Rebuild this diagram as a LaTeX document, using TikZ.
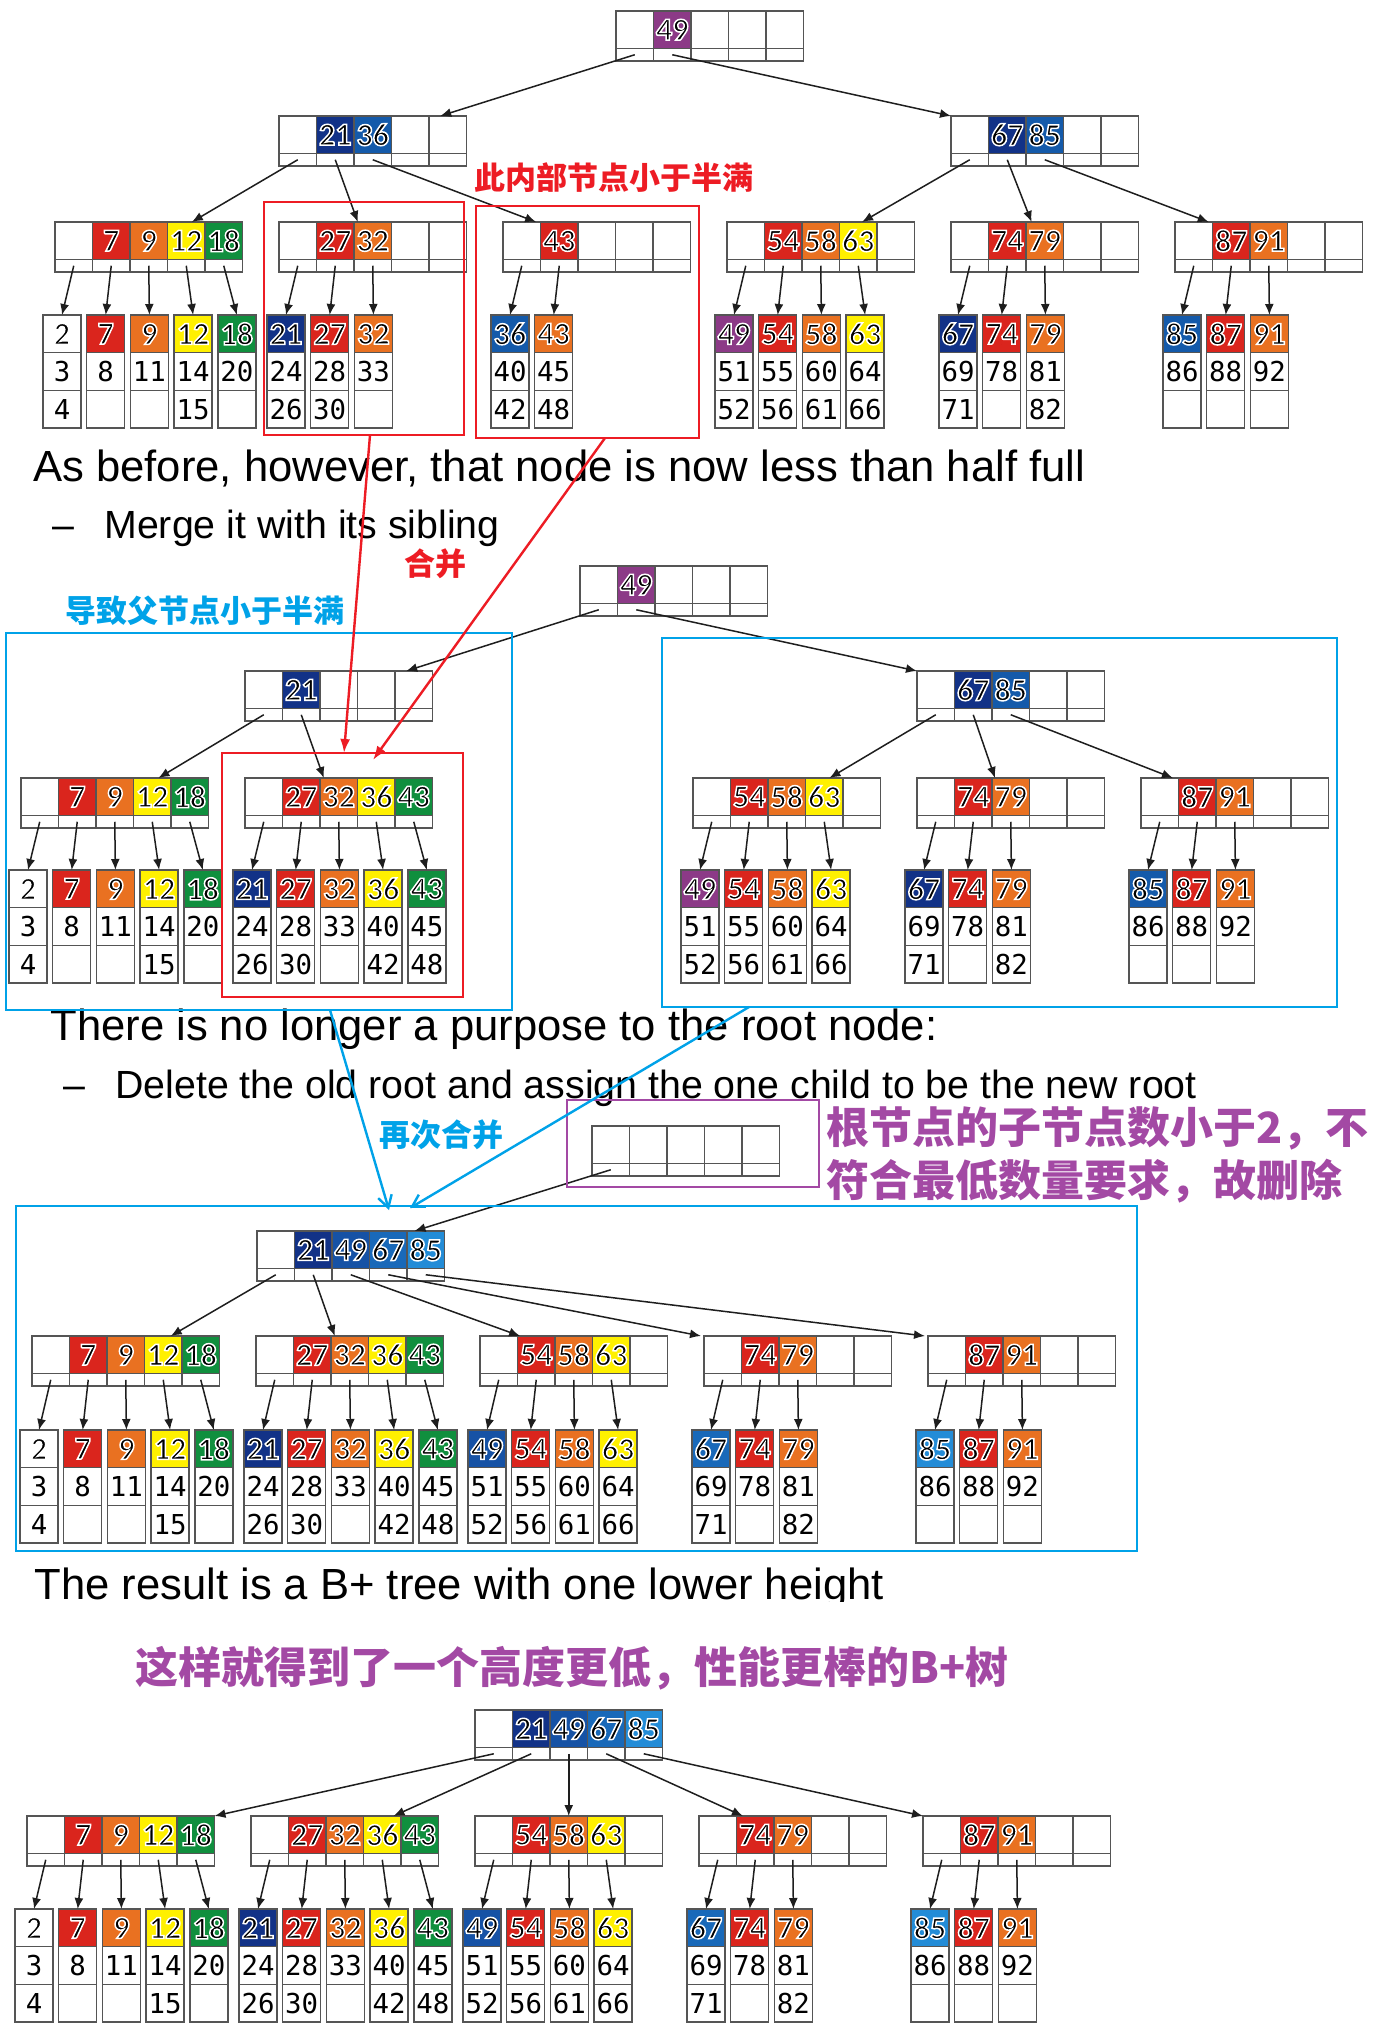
\documentclass[tikz,border=0pt]{standalone}
\usepackage{fontspec}
\usepackage{xcolor}
\usepackage{tikz}
\usetikzlibrary{arrows.meta}
\setmainfont{Liberation Sans}
\newfontfamily\cjk{Noto Sans CJK SC}
\newfontfamily\keyfont{Carlito}
\newfontfamily\numfont{DejaVu Sans Mono}
% black digits with a white rim: fill, then stroke in white
\newcommand{\halo}[1]{\special{pdf:literal direct 1 1 1 RG 0.75 w 2 Tr}#1\special{pdf:literal direct 0 Tr}}

\definecolor{cellgray}{RGB}{85,85,85}
\definecolor{arrowblack}{RGB}{30,30,30}
\definecolor{kred}{RGB}{218,37,29}
\definecolor{korange}{RGB}{233,113,33}
\definecolor{kyellow}{RGB}{255,240,0}
\definecolor{kgreen}{RGB}{16,143,62}
\definecolor{kpurple}{RGB}{140,58,135}
\definecolor{kdblue}{RGB}{18,50,135}
\definecolor{kmblue}{RGB}{20,90,170}
\definecolor{kbtwo}{RGB}{22,82,165}
\definecolor{kbthree}{RGB}{25,105,185}
\definecolor{kbfour}{RGB}{35,140,215}
\definecolor{markred}{HTML}{ED1C24}
\definecolor{markblue}{HTML}{00A2E8}
\definecolor{markpurple}{HTML}{A349A4}

\tikzset{
  keycell/.style={draw=cellgray, line width=0.7pt, minimum width=18.75pt, minimum height=18.75pt,
    inner sep=0pt, outer sep=0pt, anchor=north west, font=\keyfont\bfseries\fontsize{16}{16}\selectfont},
  ptrcell/.style={draw=cellgray, line width=0.7pt, minimum width=18.75pt, minimum height=6.25pt,
    inner sep=0pt, outer sep=0pt, anchor=north west},
  leafkey/.style={draw=cellgray, line width=0.7pt, minimum width=19pt, minimum height=18.85pt,
    inner sep=0pt, outer sep=0pt, anchor=north west, font=\keyfont\bfseries\fontsize{16}{16}\selectfont},
  leafcell/.style={leafkey, font=\numfont\fontsize{13.7}{13.7}\selectfont},
  ptr/.style={draw=arrowblack, line width=0.75pt, -{Latex[length=5.5pt,width=4.5pt]}},
  redbox/.style={draw=markred, line width=1.2pt, anchor=north west, inner sep=0pt, outer sep=0pt},
  bluebox/.style={draw=markblue, line width=1.4pt, anchor=north west, inner sep=0pt, outer sep=0pt},
  purplebox/.style={draw=markpurple, line width=1.2pt, anchor=north west, inner sep=0pt, outer sep=0pt},
  redarrow/.style={draw=markred, line width=1.2pt, -{Latex[length=7pt,width=5pt]}},
  bluearrow/.style={draw=markblue, line width=1.2pt, -{Straight Barb[length=6pt,width=7pt]}},
  bigtext/.style={anchor=base west, inner sep=0pt, font=\fontsize{21.8}{26}\selectfont},
  subtext/.style={anchor=base west, inner sep=0pt, font=\fontsize{19.65}{24}\selectfont},
  note/.style={inner sep=0pt, font=\cjk\bfseries\fontsize{15.5}{18}\selectfont},
  bignote/.style={inner sep=0pt, text=markpurple, font=\cjk\bfseries\fontsize{21.5}{26}\selectfont}
}

% one B+ tree node: name, x, y, colour/key of its five cells
\newcommand{\bnode}[4]{%
  \foreach \col/\val [count=\i from 0] in {#4} {
    \node[keycell, fill=\col] (#1-k\i) at ({#2+37.5*\i},#3) {\halo{\val}};
    \node[ptrcell] (#1-p\i) at ({#2+37.5*\i},{#3+37.5}) {};
  }
}
% leaves under a node: parent, parent x, y, colour/first/second/third
\newcommand{\bleaves}[4]{%
  \foreach \col/\ka/\kb/\kc [count=\i from 0] in {#4} {
    \node[leafkey, fill=\col] (#1-l\i-a) at ({#2-12+43.7*\i},#3) {\halo{\ka}};
    \node[leafcell] (#1-l\i-b) at ({#2-12+43.7*\i},{#3+37.7}) {\kb};
    \node[leafcell] (#1-l\i-c) at ({#2-12+43.7*\i},{#3+75.4}) {\kc};
    \draw[ptr] (#1-p\i.center) -- (#1-l\i-a.north);
  }
}

\begin{document}
\begin{tikzpicture}[x=0.5pt,y=-0.5pt]
\useasboundingbox (0,0) rectangle (1378,2038);
\fill[white] (0,0) rectangle (1378,2038);

\node[bigtext] (before) at (33,481) {As before, however, that node is now less than half full};
\node[subtext] (merge) at (52,538) {\makebox[26pt][l]{–}Merge it with its sibling};
\node[bigtext] (purpose) at (50,1040) {There is no longer a purpose to the root node:};
\node[subtext] (delete) at (63,1098) {\makebox[26pt][l]{–}Delete the old root and assign the one child to be the new root};
\begin{scope}
\clip (0,1520) rectangle (1378,1601);
\node[bigtext] (result) at (34,1599) {The result is a B+ tree with one lower height};
\end{scope}

% first tree
\bnode{P1root}{616}{11}{white/{}, kpurple/49, white/{}, white/{}, white/{}}
\bnode{P1L}{279}{116}{white/{}, kdblue/21, kmblue/36, white/{}, white/{}}
\bnode{P1R}{951}{116}{white/{}, kdblue/67, kmblue/85, white/{}, white/{}}
\bnode{P1a}{55}{222}{white/{}, kred/7, korange/9, kyellow/12, kgreen/18}
\bnode{P1b}{279}{222}{white/{}, kred/27, korange/32, white/{}, white/{}}
\bnode{P1c}{503}{222}{white/{}, kred/43, white/{}, white/{}, white/{}}
\bnode{P1d}{727}{222}{white/{}, kred/54, korange/58, kyellow/63, white/{}}
\bnode{P1e}{951}{222}{white/{}, kred/74, korange/79, white/{}, white/{}}
\bnode{P1f}{1175}{222}{white/{}, kred/87, korange/91, white/{}, white/{}}
\bleaves{P1a}{55}{315}{white/2/3/4, kred/7/8/{}, korange/9/11/{}, kyellow/12/14/15, kgreen/18/20/{}}
\bleaves{P1b}{279}{315}{kdblue/21/24/26, kred/27/28/30, korange/32/33/{}}
\bleaves{P1c}{503}{315}{kmblue/36/40/42, korange/43/45/48}
\bleaves{P1d}{727}{315}{kpurple/49/51/52, kred/54/55/56, korange/58/60/61, kyellow/63/64/66}
\bleaves{P1e}{951}{315}{kdblue/67/69/71, kred/74/78/{}, korange/79/81/82}
\bleaves{P1f}{1175}{315}{kmblue/85/86/{}, kred/87/88/{}, korange/91/92/{}}
\draw[ptr] (P1root-p0.center) -- ([xshift=5.6pt]P1L-k4.north west);
\draw[ptr] (P1root-p1.center) -- (P1R-k0.north west);
\draw[ptr] (P1L-p0.center) -- ([xshift=2.8pt]P1a-k3.north);
\draw[ptr] (P1L-p1.center) -- ([xshift=1.9pt]P1b-k2.north west);
\draw[ptr] (P1L-p2.center) -- ([xshift=-2.2pt]P1c-k1.north west);
\draw[ptr] (P1R-p0.center) -- ([xshift=1.9pt]P1d-k3.north);
\draw[ptr] (P1R-p1.center) -- ([xshift=2.8pt]P1e-k2.north west);
\draw[ptr] (P1R-p2.center) -- ([xshift=-1.9pt]P1f-k1.north west);

% second tree
\bnode{P2root}{580}{566}{white/{}, kpurple/49, white/{}, white/{}, white/{}}
\bnode{P2L}{245}{671}{white/{}, kdblue/21, white/{}, white/{}, white/{}}
\bnode{P2R}{917}{671}{white/{}, kdblue/67, kmblue/85, white/{}, white/{}}
\bnode{P2a}{21}{778}{white/{}, kred/7, korange/9, kyellow/12, kgreen/18}
\bnode{P2b}{245}{778}{white/{}, kred/27, korange/32, kyellow/36, kgreen/43}
\bnode{P2d}{693}{778}{white/{}, kred/54, korange/58, kyellow/63, white/{}}
\bnode{P2e}{917}{778}{white/{}, kred/74, korange/79, white/{}, white/{}}
\bnode{P2f}{1141}{778}{white/{}, kred/87, korange/91, white/{}, white/{}}
\bleaves{P2a}{21}{870}{white/2/3/4, kred/7/8/{}, korange/9/11/{}, kyellow/12/14/15, kgreen/18/20/{}}
\bleaves{P2b}{245}{870}{kdblue/21/24/26, kred/27/28/30, korange/32/33/{}, kyellow/36/40/42, kgreen/43/45/48}
\bleaves{P2d}{693}{870}{kpurple/49/51/52, kred/54/55/56, korange/58/60/61, kyellow/63/64/66}
\bleaves{P2e}{917}{870}{kdblue/67/69/71, kred/74/78/{}, korange/79/81/82}
\bleaves{P2f}{1141}{870}{kmblue/85/86/{}, kred/87/88/{}, korange/91/92/{}}
\draw[ptr] (P2root-p0.center) -- ([xshift=5.6pt]P2L-k4.north west);
\draw[ptr] (P2root-p1.center) -- (P2R-k0.north west);
\draw[ptr] (P2L-p0.center) -- ([xshift=3.1pt]P2a-k3.north);
\draw[ptr] (P2L-p1.center) -- ([xshift=1.9pt]P2b-k2.north west);
\draw[ptr] (P2R-p0.center) -- ([xshift=2.6pt]P2d-k3.north);
\draw[ptr] (P2R-p1.center) -- ([xshift=1.5pt]P2e-k2.north west);
\draw[ptr] (P2R-p2.center) -- ([xshift=-2.8pt]P2f-k1.north west);

% old root, removed
\bnode{oldroot}{592}{1126}{white/{}, white/{}, white/{}, white/{}, white/{}}

% third tree
\bnode{P3root}{257}{1231}{white/{}, kdblue/21, kbtwo/49, kbthree/67, kbfour/85}
\bnode{P3a}{32}{1336}{white/{}, kred/7, korange/9, kyellow/12, kgreen/18}
\bnode{P3b}{256}{1336}{white/{}, kred/27, korange/32, kyellow/36, kgreen/43}
\bnode{P3c}{480}{1336}{white/{}, kred/54, korange/58, kyellow/63, white/{}}
\bnode{P3d}{704}{1336}{white/{}, kred/74, korange/79, white/{}, white/{}}
\bnode{P3e}{928}{1336}{white/{}, kred/87, korange/91, white/{}, white/{}}
\bleaves{P3a}{32}{1430}{white/2/3/4, kred/7/8/{}, korange/9/11/{}, kyellow/12/14/15, kgreen/18/20/{}}
\bleaves{P3b}{256}{1430}{kdblue/21/24/26, kred/27/28/30, korange/32/33/{}, kyellow/36/40/42, kgreen/43/45/48}
\bleaves{P3c}{480}{1430}{kbtwo/49/51/52, kred/54/55/56, korange/58/60/61, kyellow/63/64/66}
\bleaves{P3d}{704}{1430}{kbthree/67/69/71, kred/74/78/{}, korange/79/81/82}
\bleaves{P3e}{928}{1430}{kbfour/85/86/{}, kred/87/88/{}, korange/91/92/{}}
\draw[ptr] (oldroot-p0.center) -- ([xshift=3.75pt]P3root-k4.north west);
\draw[ptr] (P3root-p0.center) -- ([xshift=3.75pt]P3a-k3.north);
\draw[ptr] (P3root-p1.center) -- ([xshift=1.9pt]P3b-k2.north west);
\draw[ptr] (P3root-p2.center) -- ([xshift=1.3pt]P3c-k1.north west);
\draw[ptr] (P3root-p3.center) -- ([xshift=-1.5pt]P3d-k0.north west);
\draw[ptr] (P3root-p4.center) -- ([xshift=-1.5pt]P3e-k0.north west);

% fourth tree
\bnode{P4root}{475}{1710}{white/{}, kdblue/21, kbtwo/49, kbthree/67, kbfour/85}
\bnode{P4a}{27}{1816}{white/{}, kred/7, korange/9, kyellow/12, kgreen/18}
\bnode{P4b}{251}{1816}{white/{}, kred/27, korange/32, kyellow/36, kgreen/43}
\bnode{P4c}{475}{1816}{white/{}, kred/54, korange/58, kyellow/63, white/{}}
\bnode{P4d}{699}{1816}{white/{}, kred/74, korange/79, white/{}, white/{}}
\bnode{P4e}{923}{1816}{white/{}, kred/87, korange/91, white/{}, white/{}}
\bleaves{P4a}{27}{1909}{white/2/3/4, kred/7/8/{}, korange/9/11/{}, kyellow/12/14/15, kgreen/18/20/{}}
\bleaves{P4b}{251}{1909}{kdblue/21/24/26, kred/27/28/30, korange/32/33/{}, kyellow/36/40/42, kgreen/43/45/48}
\bleaves{P4c}{475}{1909}{kbtwo/49/51/52, kred/54/55/56, korange/58/60/61, kyellow/63/64/66}
\bleaves{P4d}{699}{1909}{kbthree/67/69/71, kred/74/78/{}, korange/79/81/82}
\bleaves{P4e}{923}{1909}{kbfour/85/86/{}, kred/87/88/{}, korange/91/92/{}}
\draw[ptr] (P4root-p0.center) -- (P4a-k4.north east);
\draw[ptr] (P4root-p1.center) -- ([xshift=-3.75pt]P4b-k4.north west);
\draw[ptr] (P4root-p2.center) -- (P4c-k2.north);
\draw[ptr] (P4root-p3.center) -- ([xshift=3.2pt]P4d-k1.north west);
\draw[ptr] (P4root-p4.center) -- (P4e-k0.north west);

% marks
\node[redbox, minimum width=100pt, minimum height=116.5pt] (rbox1) at (264,202) {};
\node[redbox, minimum width=111.5pt, minimum height=116pt] (rbox2) at (476,206) {};
\node[redbox, minimum width=120.5pt, minimum height=122pt] (rbox3) at (222,753) {};
\node[bluebox, minimum width=253pt, minimum height=188.5pt] (bleft) at (6,633) {};
\node[bluebox, minimum width=337.5pt, minimum height=184.5pt] (bright) at (662,638) {};
\node[bluebox, minimum width=560.5pt, minimum height=172.5pt] (bbig) at (16,1206) {};
\node[purplebox, minimum width=126pt, minimum height=43.5pt] (pbox) at (567,1100) {};

\draw[redarrow] ([xshift=3pt]rbox1.south) -- ([xshift=0.75pt]rbox3.north);
\draw[redarrow] ([xshift=8.75pt]rbox2.south) -- ([xshift=15.25pt,yshift=-3.5pt]rbox3.north);
\draw[bluearrow] ([xshift=35.5pt]bleft.south) -- ([xshift=-93.75pt,yshift=-2pt]bbig.north);
\draw[bluearrow] ([xshift=-125.25pt]bright.south) -- ([xshift=-83.25pt,yshift=-1pt]bbig.north);

\node[note, text=markred] (halfnote) at (614,178) {此内部节点小于半满};
\node[note, text=markred] (mergenote) at (435,564) {合并};
\node[note, text=markblue] (parentnote) at (205,611) {导致父节点小于半满};
\node[note, text=markblue] (againnote) at (441,1135) {再次合并};
\node[bignote, anchor=west] (rootnote1) at (826,1128) {根节点的子节点数小于2，不};
\node[bignote, anchor=west] (rootnote2) at (826,1181) {符合最低数量要求，故删除};
\node[bignote] (endnote) at (572,1668) {这样就得到了一个高度更低，性能更棒的B+树};
\end{tikzpicture}
\end{document}
